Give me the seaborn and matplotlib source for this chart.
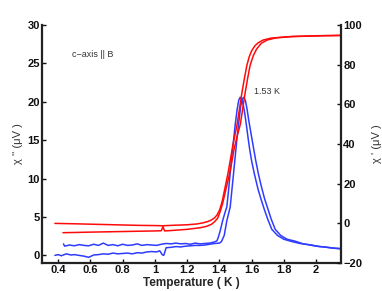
import numpy as np
import pandas as pd
import matplotlib
matplotlib.use('Agg')
import matplotlib.pyplot as plt
import seaborn as sns

# --- data ---
# chi' (red, right axis), two sweeps
red_a_T = [0.38, 0.5, 0.6, 0.7, 0.8, 0.9, 1.0, 1.05, 1.1, 1.2, 1.26, 1.30, 1.33, 1.35,
           1.37, 1.385, 1.40, 1.41, 1.42, 1.44, 1.455, 1.47, 1.485, 1.50, 1.51, 1.525,
           1.54, 1.555, 1.57, 1.585, 1.60, 1.62, 1.64, 1.67, 1.72, 1.78, 1.85, 1.95,
           2.05, 2.15]
red_a_R = [0.0, -0.2, -0.4, -0.6, -0.8, -1.0, -1.1, -1.2, -1.0, -0.7, -0.3, 0.3, 1.0, 1.7,
           2.8, 4.2, 6.5, 9.0, 12.0, 20.0, 26.0, 33.0, 40.0, 46.0, 50.0, 58.0,
           66.0, 73.0, 79.5, 84.0, 87.0, 89.5, 91.0, 92.4, 93.4, 93.8, 94.2, 94.4,
           94.6, 94.7]

red_b_T = [0.43, 0.6, 0.8, 1.0, 1.04, 1.05, 1.06, 1.1, 1.2, 1.28, 1.32, 1.35, 1.37, 1.39,
           1.405, 1.42, 1.44, 1.46, 1.475, 1.49, 1.51, 1.53, 1.545, 1.56, 1.575,
           1.59, 1.61, 1.63, 1.66, 1.695, 1.75, 1.85, 2.0, 2.15]
red_b_R = [-4.7, -4.4, -4.1, -3.8, -3.7, -1.6, -3.8, -3.6, -3.0, -2.2, -1.5, -0.5, 0.8, 2.7,
           6.0, 10.0, 17.0, 24.0, 30.0, 37.0, 44.0, 50.0, 58.0, 66.0, 73.0,
           79.5, 84.5, 87.8, 90.8, 92.4, 93.5, 94.2, 94.6, 94.8]

# chi'' (blue, left axis), two sweeps
blue_c_T = [0.433, 0.44, 0.47, 0.50, 0.53, 0.56, 0.59, 0.62, 0.65, 0.68, 0.71, 0.74,
            0.77, 0.80, 0.83, 0.86, 0.89, 0.92, 0.95, 0.98, 1.01, 1.04, 1.07, 1.10,
            1.13, 1.16, 1.19, 1.22, 1.25, 1.28, 1.31, 1.34, 1.37, 1.385, 1.394,
            1.405, 1.42, 1.435, 1.446, 1.457, 1.467, 1.477, 1.488, 1.498, 1.51,
            1.52, 1.529, 1.538, 1.548, 1.558, 1.568, 1.578, 1.588, 1.60, 1.617, 1.64,
            1.66, 1.68, 1.70, 1.725, 1.76, 1.80, 1.85, 1.90, 1.95, 2.0, 2.05, 2.1, 2.15]
blue_c_L = [1.5, 1.2, 1.35, 1.25, 1.4, 1.3, 1.25, 1.45, 1.3, 1.6, 1.3, 1.4,
            1.25, 1.45, 1.3, 1.35, 1.5, 1.3, 1.4, 1.35, 1.3, 1.45, 1.55, 1.5,
            1.6, 1.5, 1.55, 1.45, 1.6, 1.5, 1.55, 1.6, 1.75, 1.9, 2.4,
            3.2, 4.5, 5.6, 6.3, 8.5, 10.7, 13.0, 15.0, 17.0, 19.0,
            20.2, 20.6, 20.4, 19.6, 18.4, 16.9, 15.3, 13.8, 12.3, 10.6, 8.6,
            7.2, 5.9, 4.7, 3.4, 2.6, 2.1, 1.8, 1.55, 1.4, 1.2, 1.1, 0.95, 0.85]

blue_d_T = [0.38, 0.40, 0.42, 0.45, 0.48, 0.50, 0.53, 0.56, 0.59, 0.62, 0.65, 0.68,
            0.71, 0.74, 0.77, 0.80, 0.83, 0.86, 0.89, 0.92, 0.95, 0.98, 1.01, 1.03,
            1.045, 1.055, 1.07, 1.10, 1.13, 1.16, 1.19, 1.22, 1.25, 1.28, 1.31, 1.34,
            1.37, 1.40, 1.413, 1.43, 1.446, 1.467, 1.488, 1.508, 1.52, 1.532, 1.542,
            1.552, 1.562, 1.572, 1.582, 1.595, 1.61, 1.625, 1.642, 1.66, 1.68, 1.70,
            1.72, 1.746, 1.78, 1.82, 1.87, 1.92, 1.97, 2.02, 2.07, 2.11, 2.15]
blue_d_L = [0.0, 0.1, -0.05, 0.2, 0.05, 0.1, 0.0, -0.1, -0.25, 0.05, 0.1, 0.2,
            0.15, 0.3, 0.2, 0.25, 0.3, 0.2, 0.35, 0.3, 0.45, 0.5, 0.45, 0.6,
            0.1, 0.0, 1.0, 1.05, 1.15, 1.1, 1.2, 1.25, 1.3, 1.3, 1.35, 1.45,
            1.55, 1.6, 1.8, 2.6, 4.5, 6.3, 10.7, 15.0, 17.3, 19.4, 20.4,
            20.6, 20.1, 19.0, 17.6, 16.0, 14.2, 12.4, 10.6, 9.0, 7.4, 6.1,
            4.8, 3.4, 2.6, 2.1, 1.85, 1.5, 1.35, 1.15, 1.05, 0.95, 0.9]

x_ticks = [0.4, 0.6, 0.8, 1, 1.2, 1.4, 1.6, 1.8, 2]
left_ticks = [0, 5, 10, 15, 20, 25, 30]
right_ticks = [-20, 0, 20, 40, 60, 80, 100]

sns.set_style('ticks')
plt.rcParams['font.family'] = ['Liberation Sans', 'DejaVu Sans']
plt.rcParams['xtick.direction'] = 'in'
plt.rcParams['ytick.direction'] = 'in'

fig = plt.figure(figsize=(3.82, 2.91), dpi=100)
ax = fig.add_axes([0.110, 0.096, 0.783, 0.818])
ax2 = ax.twinx()

blue = '#2f3cff'
red = '#ff0a0a'
sns.lineplot(x=blue_c_T, y=blue_c_L, ax=ax, color=blue, lw=1.1, sort=False, estimator=None)
sns.lineplot(x=blue_d_T, y=blue_d_L, ax=ax, color=blue, lw=1.1, sort=False, estimator=None)
sns.lineplot(x=red_a_T, y=red_a_R, ax=ax2, color=red, lw=1.1, sort=False, estimator=None)
sns.lineplot(x=red_b_T, y=red_b_R, ax=ax2, color=red, lw=1.1, sort=False, estimator=None)

ax.set_xlim(0.3, 2.155)
ax.set_ylim(-1, 30)
ax2.set_ylim(-20, 100)
ax.set_xticks(x_ticks)
ax.set_xticklabels(['0.4', '0.6', '0.8', '1', '1.2', '1.4', '1.6', '1.8', '2'])
ax.set_yticks(left_ticks)
ax2.set_yticks(right_ticks)

for a in (ax, ax2):
    a.spines['top'].set_visible(False)
    for s in a.spines.values():
        s.set_linewidth(1.6)
        s.set_color('#222222')
    a.tick_params(labelsize=8, length=3, width=1.0, pad=1.5, colors='#111111')
    for lab in a.get_xticklabels() + a.get_yticklabels():
        lab.set_fontweight('bold')
ax.spines['right'].set_visible(False)
ax2.spines['left'].set_visible(False)
ax2.spines['bottom'].set_visible(False)

ax.set_xlabel('Temperature ( K )', fontsize=8.5, fontweight='bold', labelpad=1)
ax.set_ylabel("χ '' (μV )", fontsize=8, color='#333333', labelpad=3)
ax2.set_ylabel("χ ' (μV )", fontsize=8, color='#333333', labelpad=7)

ax.text(0.485, 26.2, 'c\u2212axis || B', fontsize=6.5, color='#333333', va='center')
ax.text(1.615, 21.4, '1.53 K', fontsize=6.5, color='#333333', va='center')

fig.savefig('out.png', dpi=100)
